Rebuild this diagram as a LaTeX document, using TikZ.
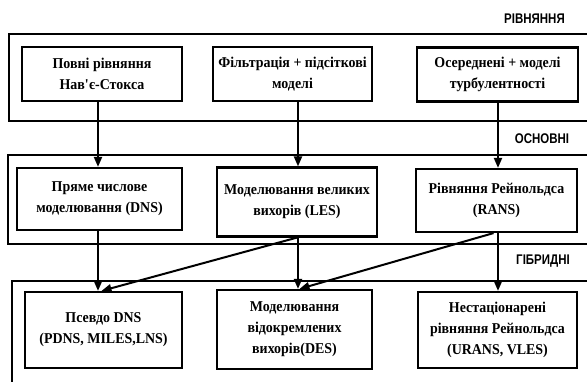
\documentclass[tikz,border=0pt]{standalone}
\usepackage{fontspec}
\setmainfont[FakeStretch=0.93]{Liberation Serif}
\newfontfamily\labfont[FakeStretch=0.82]{Liberation Sans}
\usetikzlibrary{arrows.meta}
\begin{document}
\begin{tikzpicture}[x=1pt,y=-1pt,
  box/.style={draw,line width=2.2pt,align=center,inner sep=0pt,
    font=\fontsize{15}{21}\selectfont\bfseries},
  frame/.style={line width=1.3pt},
  arr/.style={line width=2pt,-{Triangle[length=10pt,width=8pt]}},
  lab/.style={font=\labfont\fontsize{14}{16}\selectfont\bfseries,inner sep=0pt}]
\useasboundingbox (0,0) rectangle (587,382);
% frames
\draw[frame] (587,34) -- (9,34) -- (9,121) -- (587,121);
\draw[frame] (587,155) -- (8,155) -- (8,244) -- (587,244);
\draw[frame] (587,281) -- (12,281) -- (12,382);
% labels
\node[lab] (l1) at (534.5,18.5) {РІВНЯННЯ};
\node[lab] (l2) at (542,138.5) {ОСНОВНІ};
\node[lab] (l3) at (543,261) {ГІБРИДНІ};
% row 1
\node[box,minimum width=160,minimum height=54] (A) at (102,74) {Повні рівняння\\Нав\textquotesingle є-Стокса};
\node[box,minimum width=159,minimum height=54] (B) at (292.5,74) {Фільтрація + підсіткові\\моделі};
\node[box,minimum width=161,minimum height=54] (C) at (497.5,74.5) {Осереднені + моделі\\турбулентності};
% row 2
\node[box,minimum width=165,minimum height=62] (D) at (99.5,199) {Пряме числове\\моделювання (DNS)};
\node[box,minimum width=160,minimum height=69] (E) at (297,202) {Моделювання великих\\вихорів (LES)};
\node[box,minimum width=161,minimum height=63] (F) at (496.5,200.5) {Рівняння Рейнольдса\\(RANS)};
% row 3
\node[box,minimum width=157,minimum height=76] (G) at (103.5,330) {Псевдо DNS\\(PDNS, MILES,LNS)};
\node[box,minimum width=155,minimum height=79] (H) at (294.5,329.5) {Моделювання\\відокремлених\\вихорів(DES)};
\node[box,minimum width=159,minimum height=76] (I) at (497.5,330) {Нестаціонарені\\рівняння Рейнольдса\\(URANS, VLES)};
% arrows
\draw[arr] ([xshift=-4pt]A.south) -- ([xshift=-4pt]A.south |- D.north);
\draw[arr] ([xshift=5.5pt]B.south) -- ([xshift=5.5pt]B.south |- E.north);
\draw[arr] ([xshift=0.5pt]C.south) -- ([xshift=0.5pt]C.south |- F.north);
\draw[arr] ([xshift=-1.5pt]D.south) -- ([xshift=-1.5pt]D.south |- G.north);
\draw[arr] ([xshift=1pt]E.south) -- ([xshift=1pt]E.south |- H.north);
\draw[arr] ([xshift=1.5pt]F.south) -- ([xshift=1.5pt]F.south |- I.north);
\draw[arr] (E.south) -- ([xshift=-2pt]G.north);
\draw[arr] ([xshift=-3pt]F.south) -- ([xshift=5pt]H.north);
\end{tikzpicture}
\end{document}
